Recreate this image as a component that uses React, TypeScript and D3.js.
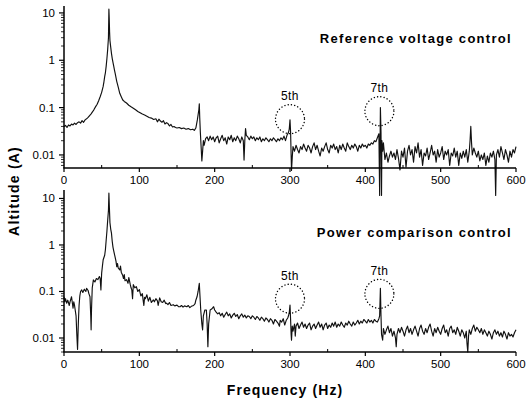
import React from "react";
import * as d3 from "d3";

// [frequency Hz, amplitude A]
const refVoltageSpectrum: [number, number][] = [
  [0,0.040],[2,0.042],[4,0.038],[6,0.043],[8,0.041],[10,0.045],[12,0.043],[14,0.047],[16,0.044],[18,0.048],
  [20,0.050],[22,0.047],[24,0.053],[26,0.049],[28,0.055],[30,0.058],[32,0.062],[34,0.068],[36,0.074],[38,0.082],
  [40,0.092],[42,0.105],[44,0.118],[46,0.14],[48,0.17],[50,0.21],[52,0.28],[53,0.35],[54,0.45],[55,0.55],
  [56,0.75],[57,1.1],[58,1.7],[59,3.0],[59.6,12],[60,8],[60.5,4],[61,2.6],[62,1.9],[63,1.4],[64,1.1],[65,0.9],
  [66,0.75],[67,0.62],[68,0.52],[70,0.36],[72,0.27],[74,0.2],[76,0.17],[78,0.145],[80,0.135],[83,0.125],
  [86,0.112],[89,0.104],[92,0.097],[95,0.09],[98,0.083],[101,0.078],[104,0.073],[107,0.07],[110,0.066],
  [113,0.062],[116,0.06],[119,0.056],[122,0.058],[124,0.05],[126,0.057],[128,0.052],[130,0.049],[132,0.053],
  [134,0.045],[136,0.048],[138,0.046],[140,0.041],[142,0.044],[144,0.039],[146,0.040],[148,0.038],[150,0.037],
  [153,0.038],[156,0.036],[159,0.037],[162,0.035],[165,0.036],[168,0.034],[171,0.035],[173,0.033],[175,0.037],
  [176,0.045],[177,0.055],[178,0.07],[179,0.09],[179.6,0.12],[180.2,0.06],[181,0.03],[182,0.015],[183,0.0075],
  [184,0.012],[185,0.02],[186,0.016],[188,0.022],[190,0.024],[192,0.02],[194,0.025],[196,0.021],[198,0.024],
  [200,0.019],[202,0.023],[204,0.025],[206,0.018],[208,0.022],[210,0.026],[212,0.02],[214,0.023],[216,0.017],
  [218,0.024],[220,0.021],[222,0.026],[224,0.019],[226,0.023],[228,0.02],[230,0.025],[232,0.022],[234,0.018],
  [236,0.024],[238,0.02],[239,0.0078],[240,0.02],[241,0.036],[242,0.026],[244,0.024],[246,0.021],[248,0.025],
  [250,0.022],[252,0.024],[254,0.02],[256,0.023],[258,0.021],[260,0.024],[262,0.019],[264,0.022],[266,0.02],
  [268,0.023],[270,0.021],[272,0.019],[274,0.022],[276,0.02],[278,0.023],[280,0.021],[282,0.019],[284,0.022],
  [286,0.02],[288,0.023],[290,0.021],[292,0.025],[294,0.02],[296,0.026],[297,0.028],[298,0.03],[299,0.035],
  [300,0.055],[300.8,0.03],[301.5,0.01],[302,0.0047],[303,0.009],[304,0.015],[306,0.012],[308,0.016],[310,0.013],
  [312,0.011],[314,0.015],[316,0.013],[318,0.017],[320,0.014],[322,0.012],[324,0.016],[326,0.014],[328,0.011],
  [330,0.015],[332,0.018],[334,0.013],[336,0.016],[338,0.012],[340,0.0095],[342,0.014],[344,0.012],[346,0.015],
  [348,0.018],[350,0.013],[352,0.011],[354,0.016],[356,0.014],[358,0.017],[360,0.013],[362,0.015],[364,0.011],
  [366,0.016],[368,0.013],[370,0.017],[372,0.014],[374,0.012],[376,0.018],[378,0.015],[380,0.013],[382,0.016],
  [384,0.014],[386,0.017],[388,0.015],[390,0.012],[392,0.016],[394,0.014],[396,0.017],[398,0.015],[400,0.016],
  [402,0.014],[404,0.017],[406,0.016],[408,0.018],[410,0.017],[412,0.02],[414,0.019],[416,0.023],[418,0.028],
  [419,0.0014],[420,0.1],[420.8,0.03],[421.5,0.0014],[422,0.02],[423,0.012],[424,0.018],[426,0.008],[428,0.011],
  [430,0.007],[432,0.0095],[434,0.012],[436,0.009],[438,0.011],[440,0.008],[442,0.013],[444,0.0085],[446,0.0048],
  [448,0.012],[450,0.009],[452,0.014],[454,0.0055],[456,0.012],[458,0.016],[460,0.01],[462,0.013],[464,0.007],
  [466,0.015],[468,0.011],[470,0.018],[472,0.009],[474,0.013],[476,0.006],[478,0.011],[480,0.0095],[482,0.014],
  [484,0.008],[486,0.011],[488,0.016],[490,0.01],[492,0.012],[494,0.007],[496,0.013],[498,0.009],[500,0.011],
  [502,0.015],[504,0.008],[506,0.012],[508,0.01],[510,0.013],[512,0.006],[514,0.011],[516,0.0095],[518,0.014],
  [520,0.009],[522,0.012],[524,0.006],[526,0.011],[528,0.0085],[530,0.012],[532,0.009],[534,0.013],[536,0.007],
  [538,0.012],[539,0.02],[540,0.04],[541,0.018],[542,0.01],[544,0.014],[546,0.011],[548,0.009],[550,0.012],
  [552,0.0075],[554,0.01],[556,0.008],[558,0.011],[560,0.006],[562,0.0095],[564,0.007],[566,0.011],[568,0.009],
  [570,0.012],[572,0.008],[573,0.0014],[574,0.01],[576,0.013],[578,0.009],[580,0.015],[582,0.011],[584,0.008],
  [586,0.013],[588,0.01],[590,0.007],[592,0.012],[594,0.009],[596,0.013],[598,0.011],[600,0.015],
];

const powerCompSpectrum: [number, number][] = [
  [0,0.077],[1,0.06],[2,0.07],[3.5,0.056],[5,0.065],[7,0.05],[8,0.06],[10,0.077],[12,0.044],[13,0.06],[14,0.05],
  [16,0.03],[17,0.012],[18,0.0057],[19,0.02],[20,0.05],[21,0.08],[22,0.1],[23.5,0.108],[25,0.095],[27,0.112],
  [29,0.1],[30,0.117],[32,0.105],[33,0.09],[34.5,0.077],[35.5,0.03],[36,0.015],[36.5,0.04],[37.5,0.12],[39,0.177],
  [41,0.16],[43,0.19],[45,0.18],[47,0.21],[48,0.19],[49,0.108],[50,0.25],[51,0.35],[52,0.48],[54,0.6],[55,0.8],
  [56,1.28],[57,2.0],[58,3.4],[59,5.5],[59.6,13],[60.3,6],[61,3.0],[62,2.2],[63,1.8],[64,1.2],[65,0.9],[66,0.75],
  [67.7,0.56],[69,0.45],[70,0.34],[71,0.4],[72,0.32],[74,0.29],[75,0.35],[76,0.26],[78,0.22],[79,0.19],[80,0.23],
  [81,0.17],[83,0.18],[85,0.15],[86,0.2],[88,0.14],[89,0.12],[90,0.108],[91,0.07],[92,0.14],[94,0.12],[96,0.127],
  [98,0.1],[100,0.11],[102,0.08],[104,0.09],[105,0.066],[106,0.05],[107,0.075],[108,0.07],[110,0.085],[112,0.062],
  [114,0.075],[116,0.058],[118.6,0.066],[120,0.06],[122,0.07],[124,0.063],[125,0.05],[127,0.073],[129,0.06],
  [131,0.058],[133,0.065],[135,0.055],[136,0.056],[138,0.052],[140,0.058],[142,0.05],[145,0.052],[147,0.049],
  [150,0.051],[152,0.047],[154,0.047],[156,0.05],[158,0.046],[160,0.049],[163,0.047],[165,0.05],[167,0.045],
  [169,0.048],[172,0.05],[174,0.055],[175,0.065],[176.6,0.077],[178,0.1],[179.6,0.15],[180.5,0.08],[181.5,0.04],
  [183,0.02],[184,0.015],[185,0.03],[187,0.04],[189,0.04],[190,0.02],[191,0.0065],[192,0.02],[194,0.04],
  [196,0.042],[198.6,0.047],[200,0.04],[202,0.036],[204,0.033],[206,0.035],[208,0.03],[210,0.034],[212,0.028],
  [214,0.032],[216,0.036],[218,0.03],[220,0.033],[222,0.027],[224,0.031],[226,0.034],[228,0.029],[230,0.032],
  [232,0.026],[234,0.03],[236,0.033],[238,0.028],[240,0.031],[242,0.027],[244,0.03],[246,0.029],[248,0.026],
  [250,0.03],[252,0.028],[254,0.025],[256,0.029],[258,0.027],[260,0.024],[262,0.028],[264,0.026],[266,0.023],
  [268,0.027],[270,0.025],[272,0.022],[274,0.026],[276,0.024],[278,0.02],[280,0.025],[282,0.023],[284,0.021],
  [286,0.018],[287,0.024],[289,0.022],[291,0.026],[293,0.019],[295,0.024],[297,0.027],[298,0.03],[299,0.035],
  [300,0.051],[300.8,0.025],[301.5,0.012],[302,0.009],[303,0.018],[304,0.014],[306,0.02],[307,0.011],[308,0.018],
  [310,0.021],[312,0.016],[314,0.019],[316,0.022],[318,0.017],[320,0.02],[322,0.016],[324,0.019],[326,0.021],
  [328,0.015],[330,0.018],[332,0.02],[334,0.016],[336,0.019],[338,0.022],[340,0.017],[342,0.02],[344,0.015],
  [346,0.019],[348,0.021],[350,0.016],[352,0.019],[354,0.017],[356,0.021],[358,0.018],[360,0.022],[362,0.017],
  [364,0.02],[366,0.018],[368,0.022],[370,0.019],[372,0.017],[374,0.021],[376,0.019],[378,0.023],[380,0.02],
  [382,0.018],[384,0.022],[386,0.019],[388,0.021],[390,0.024],[392,0.02],[394,0.023],[396,0.021],[398,0.025],
  [400,0.023],[402,0.021],[404,0.025],[406,0.022],[408,0.024],[410,0.021],[412,0.025],[414,0.023],[416,0.022],
  [418,0.026],[419,0.03],[420,0.117],[420.8,0.03],[421.5,0.012],[423,0.009],[424,0.016],[426,0.012],[428,0.015],
  [430,0.018],[432,0.013],[434,0.016],[436,0.011],[438,0.014],[440,0.01],[441,0.0065],[442,0.012],[444,0.016],
  [446,0.013],[448,0.017],[450,0.014],[452,0.011],[454,0.015],[456,0.018],[458,0.013],[460,0.016],[462,0.012],
  [464,0.015],[466,0.018],[468,0.014],[470,0.011],[472,0.016],[474,0.019],[476,0.014],[478,0.012],[480,0.016],
  [482,0.013],[484,0.017],[486,0.02],[488,0.014],[490,0.011],[492,0.016],[494,0.013],[496,0.017],[498,0.014],
  [500,0.012],[502,0.016],[504,0.019],[506,0.013],[508,0.015],[510,0.011],[512,0.016],[514,0.018],[516,0.013],
  [518,0.015],[520,0.012],[522,0.017],[524,0.014],[526,0.011],[528,0.015],[530,0.013],[532,0.01],[534,0.014],
  [535,0.0075],[536,0.005],[537,0.011],[538,0.015],[540,0.012],[542,0.016],[544,0.019],[546,0.014],[548,0.017],
  [550,0.015],[552,0.013],[554,0.016],[556,0.012],[558,0.015],[560,0.013],[562,0.011],[564,0.014],[566,0.012],
  [568,0.0095],[570,0.013],[572,0.015],[574,0.012],[576,0.014],[578,0.011],[580,0.013],[582,0.0105],[584,0.014],
  [586,0.012],[588,0.0095],[590,0.013],[592,0.011],[594,0.012],[596,0.0105],[598,0.013],[600,0.015],
];

const xTicks = [0, 100, 200, 300, 400, 500, 600];
const xMinorTicks = [50, 150, 250, 350, 450, 550];
const yTicks = [0.01, 0.1, 1, 10];
const yTickLabels = ["0.01", "0.1", "1", "10"];
const panelTitles = ["Reference voltage control", "Power comparison control"];
const harmonicFreqs = [300, 420];
const harmonicLabels = ["5th", "7th"];
// amplitude at the centre of each dotted circle, per panel
const circleAmps = [[0.057, 0.084], [0.07, 0.089]];

const FONT = "'Liberation Sans', Arial, sans-serif";

const x = d3.scaleLinear().domain([0, 600]).range([64, 516]);

const panels = [
  { y: d3.scaleLog().domain([0.0053, 14]).range([168, 6]), data: refVoltageSpectrum, titleY: 43 },
  { y: d3.scaleLog().domain([0.005, 15.2]).range([352, 190]), data: powerCompSpectrum, titleY: 237 },
];

function minorLogTicks(domain: number[]) {
  const out: number[] = [];
  for (let e = -3; e <= 1; e++) {
    for (let m = 2; m <= 9; m++) {
      const v = m * Math.pow(10, e);
      if (v >= domain[0] && v <= domain[1]) out.push(v);
    }
  }
  return out;
}

export default function App() {
  return (
    <svg width={528} height={402} style={{ position: "absolute", left: 0, top: 0, background: "#fff" }}>
      <rect width={528} height={402} fill="#fff" />
      {panels.map((p, pi) => {
        const [y0, y1] = p.y.range();
        const line = d3.line<[number, number]>().x((d) => x(d[0])).y((d) => p.y(d[1]));
        return (
          <g key={pi}>
            <path d={line(p.data) || ""} fill="none" stroke="#111" strokeWidth={1.15} strokeLinejoin="round" />
            <line x1={64} x2={64} y1={y1} y2={y0} stroke="#000" strokeWidth={1.5} />
            <line x1={63.25} x2={516} y1={y0} y2={y0} stroke="#000" strokeWidth={1.5} />
            {xTicks.map((t) => (
              <g key={t}>
                <line x1={x(t)} x2={x(t)} y1={y0} y2={y0 + 4} stroke="#000" strokeWidth={1.2} />
                <text x={x(t)} y={y0 + 16} textAnchor="middle" fontFamily={FONT} fontSize={11.5} fill="#000">
                  {t}
                </text>
              </g>
            ))}
            {xMinorTicks.map((t) => (
              <line key={t} x1={x(t)} x2={x(t)} y1={y0} y2={y0 - 3} stroke="#000" strokeWidth={1} />
            ))}
            {yTicks.map((t, i) => (
              <g key={t}>
                <line x1={59} x2={64} y1={p.y(t)} y2={p.y(t)} stroke="#000" strokeWidth={1.2} />
                <text x={55} y={p.y(t) + 4} textAnchor="end" fontFamily={FONT} fontSize={11.5} fill="#000">
                  {yTickLabels[i]}
                </text>
              </g>
            ))}
            {minorLogTicks(p.y.domain()).map((t) => (
              <line key={t} x1={61} x2={64} y1={p.y(t)} y2={p.y(t)} stroke="#000" strokeWidth={0.8} />
            ))}
            <text x={512} y={p.titleY} textAnchor="end" fontFamily={FONT} fontSize={13} fontWeight="bold" letterSpacing={1.3} fill="#000">
              {panelTitles[pi]}
            </text>
            {harmonicFreqs.map((f, hi) => {
              const cx = x(f) + (hi === 1 ? -1 : 0);
              const cy = p.y(circleAmps[pi][hi]);
              return (
                <g key={f}>
                  <circle cx={cx} cy={cy} r={14.5} fill="none" stroke="#000" strokeWidth={1.4} strokeDasharray="0.1 3.2" strokeLinecap="round" />
                  <text x={cx} y={cy - 19} textAnchor="middle" fontFamily={FONT} fontSize={12} letterSpacing={0.4} fill="#000">
                    {harmonicLabels[hi]}
                  </text>
                </g>
              );
            })}
          </g>
        );
      })}
      <text x={285} y={395} textAnchor="middle" fontFamily={FONT} fontSize={14} fontWeight="bold" letterSpacing={1.1} fill="#000">
        Frequency (Hz)
      </text>
      <text transform="translate(19,191) rotate(-90)" textAnchor="middle" fontFamily={FONT} fontSize={14} fontWeight="bold" letterSpacing={1.2} fill="#000">
        Altitude (A)
      </text>
    </svg>
  );
}
